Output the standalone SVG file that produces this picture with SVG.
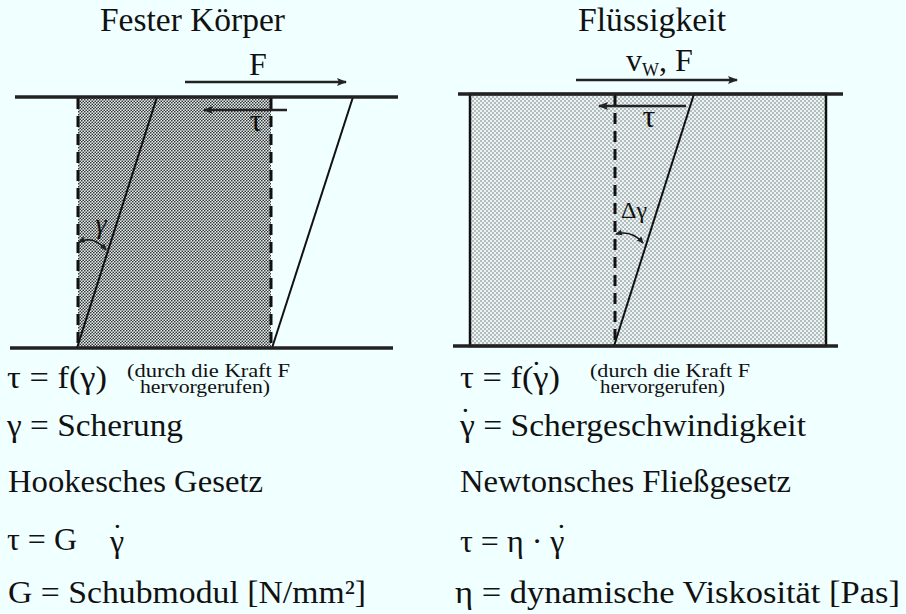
<svg xmlns="http://www.w3.org/2000/svg" width="906" height="614" viewBox="0 0 906 614" font-family="'Liberation Serif', 'DejaVu Serif', serif">
<defs>
<pattern id="dense" width="3" height="3" patternUnits="userSpaceOnUse">
<rect width="3" height="3" fill="#e4eeee"/>
<circle cx="0.75" cy="0.75" r="0.85" fill="#333"/>
<circle cx="2.25" cy="2.25" r="0.85" fill="#333"/>
</pattern>
<pattern id="sparse" width="4" height="4" patternUnits="userSpaceOnUse">
<rect width="4" height="4" fill="#eaf4f4"/>
<circle cx="1" cy="1" r="0.65" fill="#555"/>
<circle cx="3" cy="3" r="0.65" fill="#555"/>
</pattern>
<marker id="ah" markerWidth="10" markerHeight="8" refX="9" refY="4" orient="auto" markerUnits="userSpaceOnUse">
<path d="M0,0 L10,4 L0,8 L2,4 Z" fill="#222"/>
</marker>
<marker id="sh" markerWidth="7" markerHeight="6" refX="6" refY="3" orient="auto" markerUnits="userSpaceOnUse">
<path d="M0,0 L7,3 L0,6 Z" fill="#222"/>
</marker>
<marker id="shs" markerWidth="7" markerHeight="6" refX="1" refY="3" orient="auto" markerUnits="userSpaceOnUse">
<path d="M7,0 L0,3 L7,6 Z" fill="#222"/>
</marker>
</defs>
<style>
text{font-family:"Liberation Serif","DejaVu Serif",serif;fill:#111}
.big{font-size:32px}
.title{font-size:33px}
.small{font-size:19px}
.bar{stroke:#222;stroke-width:3.5;fill:none}
.ln{stroke:#111;stroke-width:2;fill:none}
.dash{stroke:#111;stroke-width:3;stroke-dasharray:11 7;fill:none}
.arr{stroke:#222;stroke-width:2.5;fill:none;marker-end:url(#ah)}
.ang{stroke:#111;stroke-width:1.6;fill:none;marker-start:url(#shs);marker-end:url(#sh)}
</style>
<rect width="906" height="614" fill="#F0FFFF"/>

<g id="solid">
<rect x="78" y="97" width="193" height="251" fill="url(#dense)"/>
<line class="dash" x1="78" y1="98" x2="78" y2="347"/>
<line class="dash" x1="271" y1="98" x2="271" y2="347"/>
<line class="ln" x1="157" y1="97" x2="77" y2="348"/>
<line class="ln" x1="353" y1="97" x2="272" y2="348"/>
<line class="bar" x1="15" y1="97" x2="398" y2="97"/>
<line class="bar" x1="10" y1="348" x2="393" y2="348"/>
<text class="title" x="100" y="31" textLength="185" lengthAdjust="spacingAndGlyphs">Fester Körper</text>
<text class="big" x="258" y="75" text-anchor="middle">F</text>
<text class="big" x="256" y="131" text-anchor="middle">τ</text>
<text x="101" y="233" font-size="28" font-style="italic" text-anchor="middle">γ</text>
<path class="ang" d="M79,242 Q94,235 106,250"/>
</g>

<g id="fluid">
<rect x="470" y="94" width="356" height="252" fill="url(#sparse)" stroke="#111" stroke-width="2.5"/>
<line class="dash" x1="615" y1="95" x2="615" y2="345"/>
<line class="ln" x1="694" y1="94" x2="614" y2="346"/>
<line class="bar" x1="458" y1="94" x2="843" y2="94"/>
<line class="bar" x1="453" y1="346" x2="838" y2="346"/>
<text class="title" x="578" y="31" textLength="148" lengthAdjust="spacingAndGlyphs">Flüssigkeit</text>
<text class="big" x="626" y="71">v<tspan font-size="18" dy="5">W</tspan><tspan dy="-5">, F</tspan></text>
<text class="big" x="649" y="127" text-anchor="middle">τ</text>
<text x="634" y="218" font-size="24" text-anchor="middle">Δγ</text>
<path class="ang" d="M616,234 Q632,230 643,243"/>
</g>

<g id="connectors">
<line class="arr" x1="185" y1="82" x2="346" y2="82"/>
<line class="arr" x1="287" y1="110" x2="204" y2="110"/>
<line class="arr" x1="576" y1="80" x2="737" y2="80"/>
<line class="arr" x1="686" y1="106" x2="599" y2="106"/>
</g>

<g id="text-left">
<text class="big" x="7" y="388" textLength="100" lengthAdjust="spacingAndGlyphs">τ = f(γ)</text>
<text class="small" x="127" y="377" textLength="163" lengthAdjust="spacingAndGlyphs">(durch die Kraft F</text>
<text class="small" x="140" y="393" textLength="130" lengthAdjust="spacingAndGlyphs">hervorgerufen)</text>
<text class="big" x="7" y="436" textLength="176" lengthAdjust="spacingAndGlyphs">γ = Scherung</text>
<text class="big" x="8" y="492" textLength="255" lengthAdjust="spacingAndGlyphs">Hookesches Gesetz</text>
<text class="big" x="7" y="550">τ = G</text>
<text class="big" x="110" y="552">γ</text>
<text class="big" x="112" y="546">˙</text>
<text class="big" x="8" y="603" textLength="358" lengthAdjust="spacingAndGlyphs">G = Schubmodul [N/mm²]</text>
</g>

<g id="text-right">
<text class="big" x="460" y="388" textLength="100" lengthAdjust="spacingAndGlyphs">τ = f(γ)</text>
<text class="big" x="531" y="383">˙</text>
<text class="small" x="590" y="377" textLength="160" lengthAdjust="spacingAndGlyphs">(durch die Kraft F</text>
<text class="small" x="600" y="393" textLength="125" lengthAdjust="spacingAndGlyphs">hervorgerufen)</text>
<text class="big" x="460" y="436" textLength="346" lengthAdjust="spacingAndGlyphs">γ = Schergeschwindigkeit</text>
<text class="big" x="460" y="430">˙</text>
<text class="big" x="460" y="492" textLength="331" lengthAdjust="spacingAndGlyphs">Newtonsches Fließgesetz</text>
<text class="big" x="460" y="552">τ = η · γ</text>
<text class="big" x="556" y="546">˙</text>
<text class="big" x="455" y="603" textLength="445" lengthAdjust="spacingAndGlyphs">η = dynamische Viskosität [Pas]</text>
</g>
</svg>
